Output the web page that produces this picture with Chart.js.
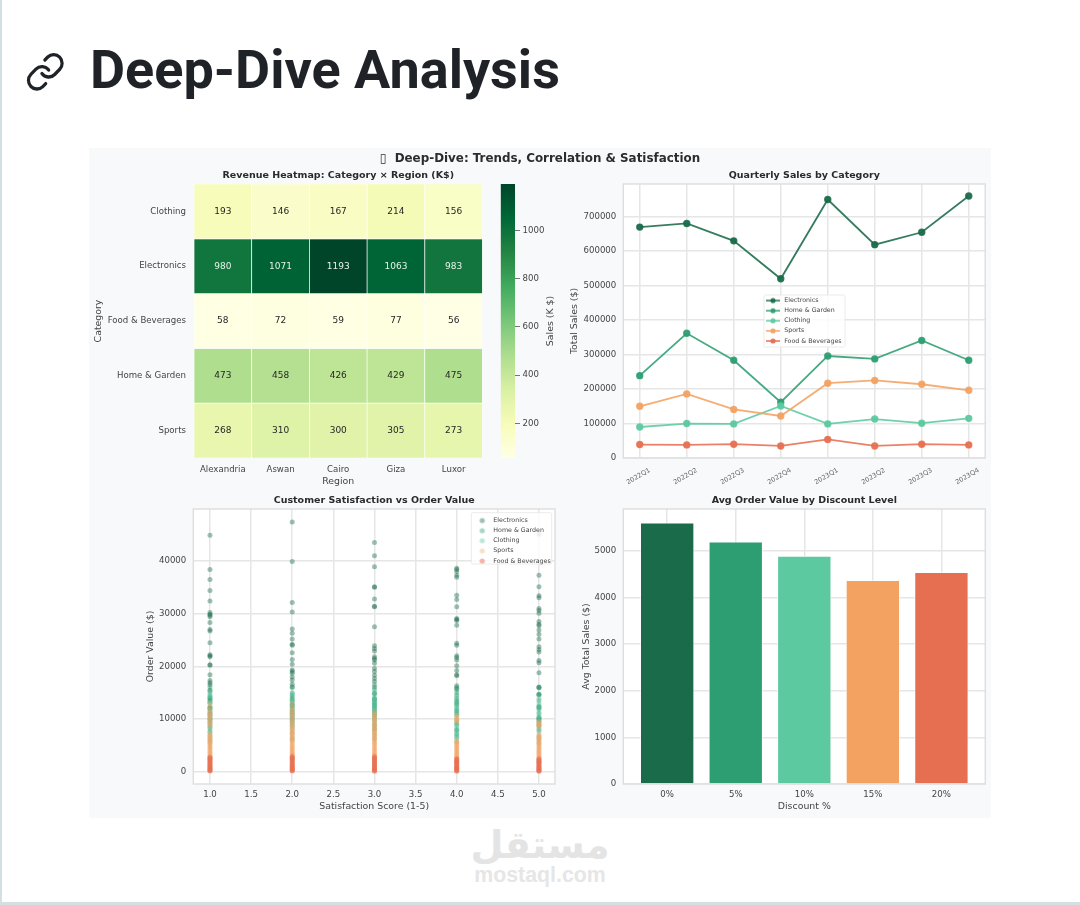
<!DOCTYPE html>
<html>
<head>
<meta charset="utf-8">
<title>Deep-Dive Analysis</title>
<script src="https://cdn.jsdelivr.net/npm/chart.js@4"></script>
<style>
  html, body { margin: 0; padding: 0; background: #fff; }
  body { position: relative; width: 1080px; height: 905px; overflow: hidden; }
  .abs { position: absolute; }
  canvas { position: absolute; filter: blur(0.45px); }
  #leftStrip { left: 0; top: 0; width: 2px; height: 905px; background: #d3dfe3; }
  #bottomStrip { left: 0; top: 902px; width: 1080px; height: 3px; background: #d3dfe3; }
  #heading { left: 90px; top: 38px; font: 700 54px/64px Roboto, sans-serif; color: #1f2328; white-space: nowrap; }
  #panel { left: 89px; top: 148px; width: 902px; height: 670px; background: #f8f9fa; }
  #suptitle { left: 89px; top: 151px; width: 902px; text-align: center; white-space: pre; font: 700 11.9px/14px "DejaVu Sans", sans-serif; color: #2c2c2c; filter: blur(0.3px); }
  #markAr { left: 440px; top: 817px; width: 200px; text-align: center; font: 700 38px/56px "DejaVu Sans", sans-serif; color: #e4e4e4; }
  #markEn { left: 440px; top: 863px; width: 200px; text-align: center; font: 700 21.3px/24px "Liberation Sans", sans-serif; color: #e6e6e6; }
</style>
</head>
<body>
<div class="abs" id="leftStrip"></div>
<svg class="abs" style="left:25.2px;top:50.5px" width="40.6" height="41.6" viewBox="0 0 24 24" preserveAspectRatio="none" fill="none" stroke="#1f2328" stroke-width="1.9" stroke-linecap="round" stroke-linejoin="round">
  <path d="M10 13a5 5 0 0 0 7.54.54l3-3a5 5 0 0 0-7.07-7.07l-1.72 1.71"/>
  <path d="M14 11a5 5 0 0 0-7.54-.54l-3 3a5 5 0 0 0 7.07 7.07l1.71-1.71"/>
</svg>
<div class="abs" id="heading">Deep-Dive Analysis</div>
<div class="abs" id="panel"></div>
<div class="abs" id="suptitle">▯  Deep-Dive: Trends, Correlation &amp; Satisfaction</div>
<canvas id="heatChart" width="410" height="320" style="left:89px;top:170px"></canvas>
<canvas id="colorBar" width="70" height="294" style="left:495px;top:174px"></canvas>
<canvas id="lineChart" width="426" height="320" style="left:565px;top:170px"></canvas>
<canvas id="scatterChart" width="425" height="320" style="left:135px;top:495px"></canvas>
<canvas id="barChart" width="426" height="320" style="left:565px;top:495px"></canvas>
<div class="abs" id="markAr" dir="rtl">مستقل</div>
<div class="abs" id="markEn">mostaql.com</div>
<div class="abs" id="bottomStrip"></div>

<script>
Chart.defaults.font.family = '"DejaVu Sans", sans-serif';
Chart.defaults.color = '#444';
Chart.defaults.animation = false;
Chart.defaults.responsive = false;

const categoryNames = ['Electronics', 'Home & Garden', 'Clothing', 'Sports', 'Food & Beverages'];
const categoryColors = ['#1a6b4a', '#2d9e72', '#5cc9a0', '#f4a261', '#e76f51'];
const scatterAlpha = [0.42, 0.42, 0.42, 0.34, 0.5];

// heatmap
const regions = ['Alexandria', 'Aswan', 'Cairo', 'Giza', 'Luxor'];
const heatRows = ['Clothing', 'Electronics', 'Food & Beverages', 'Home & Garden', 'Sports'];
const heatClothing = [193, 146, 167, 214, 156];
const heatElectronics = [980, 1071, 1193, 1063, 983];
const heatFood = [58, 72, 59, 77, 56];
const heatHome = [473, 458, 426, 429, 475];
const heatSports = [268, 310, 300, 305, 273];
const heatTable = [heatClothing, heatElectronics, heatFood, heatHome, heatSports];
const heatRowTicks = [0.5, 1.5, 2.5, 3.5, 4.5];
const colorBarTicks = [200, 400, 600, 800, 1000];
const ylGn = ['#ffffe5', '#f7fcb9', '#d9f0a3', '#addd8e', '#78c679', '#41ab5d', '#238443', '#006837', '#004529'];

// quarterly sales
const quarters = ['2022Q1', '2022Q2', '2022Q3', '2022Q4', '2023Q1', '2023Q2', '2023Q3', '2023Q4'];
const quarterTicks = [0, 1, 2, 3, 4, 5, 6, 7];
const salesTicks = [0, 100000, 200000, 300000, 400000, 500000, 600000, 700000];
const electronicsSales = [670000, 680500, 630000, 520000, 750000, 619000, 655000, 760000];
const homeSales = [239000, 362000, 283500, 162000, 296000, 287500, 341000, 283500];
const clothingSales = [90000, 100000, 99000, 151000, 99000, 113000, 101000, 115000];
const sportsSales = [150000, 186000, 141000, 122000, 217000, 225000, 214000, 196500];
const foodSales = [39000, 38000, 40000, 35000, 54000, 35000, 40000, 38000];
const salesTable = [electronicsSales, homeSales, clothingSales, sportsSales, foodSales];

// satisfaction vs order value, one list per score
const scores = [1, 2, 3, 4, 5];
const scoreTicks = [1, 1.5, 2, 2.5, 3, 3.5, 4, 4.5, 5];
const orderTicks = [0, 10000, 20000, 30000, 40000];
const electronicsOrders = [
  [44900, 38400, 36500, 34400, 32400, 30200, 29900, 29700, 29400, 28300, 27000, 26700, 24500, 22200, 22000, 21800, 20300, 20200, 18400, 17300, 16900, 16500, 15500],
  [47400, 39900, 32100, 30300, 27100, 26300, 25200, 24200, 24000, 22600, 21300, 20400, 19300, 19000, 18700, 18000, 17400, 16600, 16100],
  [43500, 41000, 38900, 35100, 35000, 32800, 31400, 31300, 27500, 23900, 23400, 22900, 21800, 21500, 21200, 20600, 19600, 19000, 18300, 17700, 17100, 16100, 14900],
  [38600, 38400, 38000, 37300, 36900, 33500, 32700, 31300, 29100, 28900, 28700, 27800, 24400, 24000, 22000, 21700, 21200, 20100, 19200, 18400, 18200, 16300, 15800],
  [45100, 37300, 35100, 33400, 33000, 31000, 30600, 30100, 28500, 28000, 27700, 26900, 26100, 25200, 23700, 23200, 22700, 21100, 20700, 18800, 16100, 16000, 14700]
];
const homeOrders = [
  [16100, 15300, 14600, 14100, 14000, 13700, 13500, 13200, 12300, 12100, 12000, 11400, 11000, 10600, 10100, 9700, 9100, 8400, 7700],
  [16000, 15000, 14500, 14200, 13800, 13500, 13100, 12700, 12500, 12200, 11800, 11400, 11100, 10700, 10300, 9900, 9500, 8800],
  [16500, 15600, 14700, 14000, 13800, 13600, 13300, 13000, 12700, 12500, 12200, 11900, 11500, 11200, 10800, 10500, 9800, 8900, 8100],
  [16000, 15500, 15000, 14500, 13900, 13500, 13200, 12900, 12600, 12000, 11600, 11300, 10900, 9300, 8800, 8000, 7800, 7100, 6600],
  [15900, 14700, 14500, 13500, 12500, 12300, 12200, 11800, 11000, 10300, 10100, 10000, 9800, 9300, 8700, 7900]
];
const clothingOrders = [
  [15000, 14300, 13200, 12900, 11700, 10900, 10100, 9400, 8700, 8100, 7400, 6800, 6100, 5600],
  [14800, 13500, 12800, 11600, 10800, 10000, 9300, 8500, 7900, 7300, 6500, 6000],
  [15200, 13900, 13400, 12800, 12200, 11600, 11000, 10200, 9500, 8800, 8200, 7500, 6900, 6200],
  [14200, 13100, 12300, 11500, 10600, 9800, 9000, 8300, 7500, 7000, 6300, 5700],
  [13900, 13000, 12100, 11300, 10500, 9600, 8900, 8200, 7600, 6700, 6100, 5500]
];
const sportsOrders = [
  [12900, 12400, 11700, 11300, 11000, 10700, 10500, 10200, 9900, 9600, 9300, 9000, 8600, 7300, 7000, 6800, 6600, 6400, 6200, 6000, 5800, 5500, 5300, 5100, 4900, 4700, 4500, 4300, 4100, 3900, 3700, 3500, 3300, 3100, 2900, 2700, 2500, 2300, 2100],
  [13000, 12300, 11900, 11500, 11100, 10800, 10500, 10100, 9700, 9400, 9100, 8700, 8500, 8200, 8000, 7800, 7500, 7300, 7100, 6900, 6600, 6400, 6200, 5900, 5700, 5500, 5200, 5000, 4800, 4600, 4400, 4200, 4000, 3800, 3600, 3400, 3200, 3000, 2800, 2600, 2400, 2200],
  [11300, 10900, 10600, 10300, 10000, 9700, 9500, 9200, 8900, 8600, 8400, 8100, 7900, 7700, 7400, 7200, 7000, 6800, 6500, 6300, 6100, 5900, 5600, 5400, 5200, 5000, 4700, 4500, 4300, 4100, 3800, 3600, 3400, 3200, 3000, 2800, 2600, 2400, 2200, 2000],
  [10700, 10300, 10100, 9900, 9700, 9500, 5900, 5700, 5500, 5300, 5100, 4900, 4700, 4500, 4300, 4100, 3900, 3700, 3500, 3300, 3100, 2900, 2700, 2500, 2300, 2100, 1900],
  [9600, 9300, 9100, 8900, 8700, 8500, 7100, 6900, 6700, 6500, 6300, 6100, 5900, 5600, 5400, 5200, 5000, 4800, 4600, 4400, 4200, 4000, 3800, 3600, 3400, 3200, 3000, 2800, 2600, 2400, 2200, 2000, 1800]
];
const foodOrders = [
  [2800, 2600, 2400, 2200, 2000, 1800, 1600, 1450, 1300, 1150, 1000, 850, 700, 560, 430, 310, 200, 110],
  [2950, 2700, 2500, 2300, 2100, 1900, 1700, 1550, 1350, 1200, 1050, 900, 760, 620, 480, 340, 220, 120],
  [2900, 2650, 2450, 2250, 2050, 1850, 1650, 1500, 1300, 1150, 1000, 870, 720, 580, 440, 300, 190, 100],
  [2500, 2300, 2100, 1900, 1750, 1600, 1400, 1250, 1100, 950, 820, 680, 540, 400, 280, 170, 90],
  [2450, 2250, 2050, 1850, 1700, 1550, 1350, 1200, 1050, 900, 770, 630, 500, 370, 250, 150, 80]
];
const orderTable = [electronicsOrders, homeOrders, clothingOrders, sportsOrders, foodOrders];

// discount bars
const discounts = ['0%', '5%', '10%', '15%', '20%'];
const discountTicks = [0, 1, 2, 3, 4];
const avgOrderValue = [5600, 5193, 4886, 4365, 4536];
const avgTicks = [0, 1000, 2000, 3000, 4000, 5000];

function hexAlpha(hex, a) {
  const n = parseInt(hex.slice(1), 16);
  return 'rgba(' + (n >> 16) + ',' + ((n >> 8) & 255) + ',' + (n & 255) + ',' + a + ')';
}

function heatColor(v) {
  const t = Math.max(0, Math.min(1, (v - 56) / (1193 - 56))) * (ylGn.length - 1);
  const i = Math.min(Math.floor(t), ylGn.length - 2);
  const a = parseInt(ylGn[i].slice(1), 16), b = parseInt(ylGn[i + 1].slice(1), 16);
  const f = t - i;
  const mix = s => Math.round(((a >> s) & 255) * (1 - f) + ((b >> s) & 255) * f);
  return 'rgb(' + mix(16) + ',' + mix(8) + ',' + mix(0) + ')';
}

const fixTicks = list => scale => { scale.ticks = list.map(value => ({ value })); };
const fitWidth = w => scale => { scale.width = w; };
const fitHeight = h => scale => { scale.height = h; };

// white plot background and the grey frame round it
const framePlugin = {
  id: 'frame',
  beforeDraw(chart) {
    const a = chart.chartArea;
    chart.ctx.fillStyle = '#fff';
    chart.ctx.fillRect(a.left, a.top, a.width, a.height);
  },
  afterDatasetsDraw(chart) {
    const a = chart.chartArea;
    chart.ctx.strokeStyle = '#dedede';
    chart.ctx.lineWidth = 1.4;
    chart.ctx.strokeRect(a.left, a.top, a.width, a.height);
  }
};

// puts the legend at a free spot inside the plot, with a pale box behind it
const placeLegendPlugin = {
  id: 'placeLegend',
  beforeLayout(chart, args, opts) {
    const legend = chart.legend;
    legend._layers = () => [{
      z: 5,
      draw() {
        const ctx = chart.ctx;
        ctx.save();
        ctx.fillStyle = 'rgba(255,255,255,0.8)';
        ctx.strokeStyle = '#e6e6e6';
        ctx.lineWidth = 0.8;
        ctx.beginPath();
        ctx.roundRect(opts.boxX, opts.boxY, opts.boxW, opts.boxH, 1.5);
        ctx.fill();
        ctx.stroke();
        ctx.restore();
        legend.draw();
      }
    }];
  },
  afterLayout(chart, args, opts) {
    const legend = chart.legend;
    legend.left = opts.left;
    legend.top = opts.top;
    legend.right = opts.left + legend.width;
    legend.bottom = opts.top + legend.height;
  }
};

function baseTitle(text) {
  return { display: true, text, fullSize: false, color: '#2a2a2a', padding: { top: 0, bottom: 2.6 }, font: { size: 9.5, weight: 'bold', lineHeight: 1.2 } };
}
function axisTitle(text, pad) {
  return { display: true, text, color: '#444', padding: pad, font: { size: 9.4, lineHeight: 1.2 } };
}
const gridStyle = { color: '#e6e6e6', lineWidth: 1.5, drawTicks: false };

// small sample drawn for legend rows: a dot, with or without a line through it
function legendSample(color, withLine) {
  const c = document.createElement('canvas');
  c.width = 16;
  c.height = 8;
  const g = c.getContext('2d');
  g.strokeStyle = color;
  g.fillStyle = color;
  g.lineWidth = 1.6;
  if (withLine) {
    g.beginPath();
    g.moveTo(1, 4);
    g.lineTo(15, 4);
    g.stroke();
  }
  g.beginPath();
  g.arc(8, 4, 2.6, 0, Math.PI * 2);
  g.fill();
  return c;
}
function legendLabels(withLine, alphas) {
  return {
    usePointStyle: true,
    pointStyleWidth: 16,
    padding: 3.8,
    color: '#444',
    font: { size: 6.3 },
    generateLabels: chart => chart.data.datasets.map((d, i) => ({
      text: d.label,
      pointStyle: legendSample(hexAlpha(categoryColors[i], alphas[i]), withLine),
      fontColor: '#444',
      lineWidth: 0,
      datasetIndex: i
    }))
  };
}

// heatmap: stacked unit bars, one dataset per row, coloured from the table
const heatValuesPlugin = {
  id: 'heatValues',
  afterDatasetsDraw(chart) {
    const ctx = chart.ctx;
    ctx.save();
    ctx.font = '9px "DejaVu Sans"';
    ctx.textAlign = 'center';
    ctx.textBaseline = 'middle';
    heatTable.forEach((row, r) => {
      const bars = chart.getDatasetMeta(r).data;
      row.forEach((v, c) => {
        ctx.fillStyle = v > 800 ? '#e8f2e8' : '#262626';
        ctx.fillText(String(v), bars[c].x, (bars[c].y + bars[c].base) / 2);
      });
    });
    ctx.restore();
  }
};

new Chart(document.getElementById('heatChart'), {
  type: 'bar',
  data: {
    labels: regions,
    datasets: heatRows.map((name, r) => ({
      label: name,
      data: regions.map(() => 1),
      backgroundColor: heatTable[r].map(heatColor),
      borderColor: '#fff',
      borderWidth: 0.7,
      borderSkipped: false,
      barPercentage: 1,
      categoryPercentage: 1
    }))
  },
  options: {
    layout: { padding: { right: 16.5 } },
    plugins: { legend: { display: false }, tooltip: { enabled: false }, title: baseTitle('Revenue Heatmap: Category × Region (K$)') },
    scales: {
      x: {
        stacked: true,
        afterFit: fitHeight(32),
        grid: { display: false, drawTicks: false },
        border: { display: false },
        ticks: { font: { size: 8.6 }, padding: 7, color: '#444' },
        title: axisTitle('Region', { top: 0, bottom: 2.6 })
      },
      y: {
        stacked: true,
        reverse: true,
        min: 0,
        max: 5,
        afterFit: fitWidth(105),
        afterBuildTicks: fixTicks(heatRowTicks),
        grid: { display: false, drawTicks: false },
        border: { display: false },
        ticks: { font: { size: 8.6 }, padding: 8, color: '#444', autoSkip: false, callback: v => heatRows[v - 0.5] },
        title: axisTitle('Category', { top: 4, bottom: 0 })
      }
    }
  },
  plugins: [heatValuesPlugin]
});

// colour bar: one floating bar from the lowest to the highest value
const colorBarLabel = 'Sales (K $)';
new Chart(document.getElementById('colorBar'), {
  type: 'bar',
  data: {
    labels: [''],
    datasets: [{
      data: [[56, 1193]],
      barPercentage: 1,
      categoryPercentage: 1,
      backgroundColor(c) {
        const a = c.chart.chartArea;
        if (!a || !Number.isFinite(a.top)) return ylGn[4];
        const g = c.chart.ctx.createLinearGradient(0, a.bottom, 0, a.top);
        ylGn.forEach((col, i) => g.addColorStop(i / (ylGn.length - 1), col));
        return g;
      }
    }]
  },
  options: {
    layout: { padding: { left: 5.7, top: 10, bottom: 10 } },
    plugins: { legend: { display: false }, tooltip: { enabled: false } },
    scales: {
      x: { display: false },
      y: {
        position: 'right',
        min: 56,
        max: 1193,
        afterFit: fitWidth(50),
        afterBuildTicks: fixTicks(colorBarTicks),
        grid: { drawOnChartArea: false, color: '#666', lineWidth: 0.9, tickLength: 5 },
        border: { display: false },
        ticks: { font: { size: 8.6 }, padding: 2.5, color: '#444', callback: v => v }
      }
    }
  },
  plugins: [{
    id: 'barLabel',
    afterDraw(chart) {
      const ctx = chart.ctx;
      const a = chart.chartArea;
      ctx.save();
      ctx.translate(a.right + 36, (a.top + a.bottom) / 2 );
      ctx.rotate(-Math.PI / 2);
      ctx.font = '9.4px "DejaVu Sans"';
      ctx.fillStyle = '#444';
      ctx.textAlign = 'center';
      ctx.textBaseline = 'middle';
      ctx.fillText(colorBarLabel, 0, 0);
      ctx.restore();
    }
  }]
});

new Chart(document.getElementById('lineChart'), {
  type: 'line',
  data: {
    datasets: categoryNames.map((name, i) => ({
      label: name,
      data: salesTable[i].map((y, q) => ({ x: quarterTicks[q], y })),
      borderColor: hexAlpha(categoryColors[i], 0.88),
      backgroundColor: hexAlpha(categoryColors[i], 0.92),
      borderWidth: 1.8,
      pointRadius: 2.8,
      tension: 0,
      order: categoryNames.length - i
    }))
  },
  options: {
    layout: { padding: { right: 5.7 } },
    plugins: {
      tooltip: { enabled: false },
      title: baseTitle('Quarterly Sales by Category'),
      legend: { position: 'chartArea', align: 'start', labels: legendLabels(true, [0.92, 0.92, 0.92, 0.92, 0.92]) },
      placeLegend: { left: 196.2, top: 123.6, boxX: 199, boxY: 125, boxW: 81, boxH: 52 }
    },
    scales: {
      x: {
        type: 'linear',
        min: -0.35,
        max: 7.35,
        afterFit: fitHeight(32),
        afterBuildTicks: fixTicks(quarterTicks),
        grid: gridStyle,
        border: { display: false },
        ticks: { font: { size: 6.6 }, color: '#666', padding: 8.5, minRotation: 30, maxRotation: 30, autoSkip: false, labelOffset: 10, callback: v => quarters[v] }
      },
      y: {
        min: 0,
        max: 795000,
        afterFit: fitWidth(58.3),
        afterBuildTicks: fixTicks(salesTicks),
        grid: gridStyle,
        border: { display: false },
        ticks: { font: { size: 8.6 }, padding: 7, color: '#444', callback: v => v },
        title: axisTitle('Total Sales ($)', { top: 4.1, bottom: 0 })
      }
    }
  },
  plugins: [framePlugin, placeLegendPlugin]
});

new Chart(document.getElementById('scatterChart'), {
  type: 'scatter',
  data: {
    datasets: categoryNames.map((name, i) => ({
      label: name,
      data: scores.flatMap((s, k) => orderTable[i][k].map(y => ({ x: s, y }))),
      backgroundColor: hexAlpha(categoryColors[i], scatterAlpha[i]),
      pointRadius: 2.5,
      pointBorderWidth: 0,
      order: categoryNames.length - i
    }))
  },
  options: {
    layout: { padding: { right: 5 } },
    plugins: {
      tooltip: { enabled: false },
      title: baseTitle('Customer Satisfaction vs Order Value'),
      legend: { position: 'chartArea', align: 'start', labels: legendLabels(false, scatterAlpha) },
      placeLegend: { left: 335.4, top: 18.6, boxX: 336.3, boxY: 17.7, boxW: 80.4, boxH: 51.3 }
    },
    scales: {
      x: {
        type: 'linear',
        min: 0.797,
        max: 5.195,
        afterFit: fitHeight(31),
        afterBuildTicks: fixTicks(scoreTicks),
        grid: gridStyle,
        border: { display: false },
        ticks: { font: { size: 8.6 }, padding: 6, color: '#444', callback: v => v.toFixed(1) },
        title: axisTitle('Satisfaction Score (1-5)', { top: 0, bottom: 2.5 })
      },
      y: {
        min: -2335,
        max: 49870,
        afterFit: fitWidth(58.3),
        afterBuildTicks: fixTicks(orderTicks),
        grid: gridStyle,
        border: { display: false },
        ticks: { font: { size: 8.6 }, padding: 7, color: '#444', callback: v => v },
        title: axisTitle('Order Value ($)', { top: 10, bottom: 0 })
      }
    }
  },
  plugins: [framePlugin, placeLegendPlugin]
});

new Chart(document.getElementById('barChart'), {
  type: 'bar',
  data: {
    datasets: [{
      data: avgOrderValue.map((y, i) => ({ x: discountTicks[i], y })),
      backgroundColor: categoryColors,
      borderColor: 'rgba(255,255,255,0.5)',
      borderWidth: 1,
      barThickness: 53.7
    }]
  },
  options: {
    layout: { padding: { right: 5.7 } },
    plugins: { legend: { display: false }, tooltip: { enabled: false }, title: baseTitle('Avg Order Value by Discount Level') },
    scales: {
      x: {
        type: 'linear',
        offset: false,
        min: -0.64,
        max: 4.64,
        afterFit: fitHeight(31),
        afterBuildTicks: fixTicks(discountTicks),
        grid: { ...gridStyle, offset: false },
        border: { display: false },
        ticks: { font: { size: 8.6 }, padding: 6, color: '#444', callback: v => discounts[v] },
        title: axisTitle('Discount %', { top: 0, bottom: 2.5 })
      },
      y: {
        min: 0,
        max: 5894,
        afterFit: fitWidth(58.3),
        afterBuildTicks: fixTicks(avgTicks),
        grid: gridStyle,
        border: { display: false },
        ticks: { font: { size: 8.6 }, padding: 7, color: '#444', callback: v => v },
        title: axisTitle('Avg Total Sales ($)', { top: 15.5, bottom: 0 })
      }
    }
  },
  plugins: [framePlugin]
});
</script>
</body>
</html>
